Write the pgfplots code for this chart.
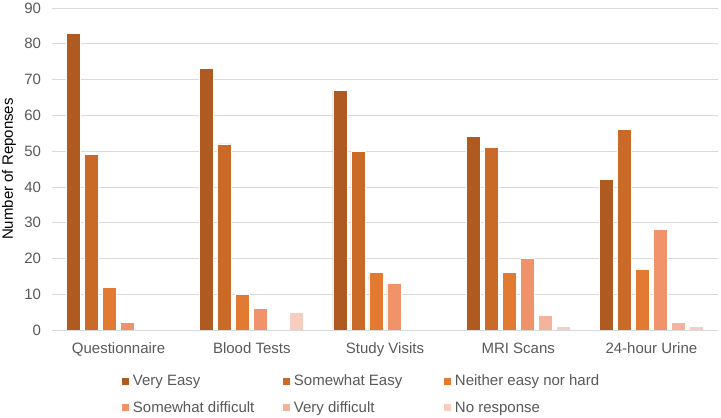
\documentclass[border=0pt]{standalone}
\usepackage{fontspec}
\setmainfont{Liberation Sans}
\usepackage{pgfplots}
\pgfplotsset{compat=1.18}

\definecolor{veasy}{HTML}{AE5A21}
\definecolor{seasy}{HTML}{CA6A28}
\definecolor{neither}{HTML}{E27A32}
\definecolor{sdiff}{HTML}{F0936A}
\definecolor{vdiff}{HTML}{F4B39C}
\definecolor{noresp}{HTML}{F7CDBF}
\definecolor{gridgray}{HTML}{D9D9D9}
\definecolor{txtgray}{HTML}{595959}

% fixed-width legend cells so the three columns line up
\newcommand{\legcell}[1]{\makebox[146pt][l]{#1}}

\begin{document}
\begin{tikzpicture}
\path[use as bounding box] (-52pt,-88pt) rectangle (669pt,330pt);
\begin{axis}[
    scale only axis,
    width=666pt, height=322pt,
    ybar=4pt,
    bar width=14pt,
    xmin=-0.5, xmax=4.5,
    ymin=0, ymax=90,
    enlargelimits=false,
    xtick={0,1,2,3,4},
    xticklabels={Questionnaire, Blood Tests, Study Visits, MRI Scans, 24-hour Urine},
    ytick={0,10,...,90},
    major tick length=0pt,
    axis x line*=bottom,
    axis y line*=left,
    x axis line style={gridgray, line width=0.75pt, -},
    y axis line style={draw=none},
    ymajorgrids,
    grid style={gridgray, line width=0.75pt},
    font=\fontsize{15}{18}\selectfont,
    /pgf/number format/assume math mode=true,
    yticklabel style={txtgray, xshift=-7.5pt},
    xticklabel style={txtgray, yshift=-9pt},
    ylabel={Number of Reponses},
    ylabel style={at={([xshift=-43pt]axis description cs:0,0.5)}, anchor=center},
    legend columns=3,
    legend style={at={(axis description cs:0.1047,-0.1326)}, anchor=north west, draw=none, inner sep=0pt,
        font=\fontsize{15}{18}\selectfont, text=txtgray,
        nodes={inner xsep=4pt}, row sep=10.5pt},
    legend image code/.code={\fill[#1, draw=none] (0pt,-3.5pt) rectangle (7pt,3.5pt);},
    every axis plot/.append style={draw=white, line width=0.75pt},
]
\addplot[fill=veasy] coordinates {(0,83) (1,73) (2,67) (3,54) (4,42)};
\addlegendentry{\legcell{Very Easy}}
\addplot[fill=seasy] coordinates {(0,49) (1,52) (2,50) (3,51) (4,56)};
\addlegendentry{\legcell{Somewhat Easy}}
\addplot[fill=neither] coordinates {(0,12) (1,10) (2,16) (3,16) (4,17)};
\addlegendentry{\legcell{Neither easy nor hard}}
\addplot[fill=sdiff] coordinates {(0,2) (1,6) (2,13) (3,20) (4,28)};
\addlegendentry{\legcell{Somewhat difficult}}
\addplot[fill=vdiff] coordinates {(0,0) (1,0) (2,0) (3,4) (4,2)};
\addlegendentry{\legcell{Very difficult}}
\addplot[fill=noresp] coordinates {(0,0) (1,5) (2,0) (3,1) (4,1)};
\addlegendentry{\legcell{No response}}
\draw[gridgray, line width=0.75pt] (axis description cs:0,0) -- (axis description cs:1,0);
\end{axis}
\end{tikzpicture}
\end{document}
